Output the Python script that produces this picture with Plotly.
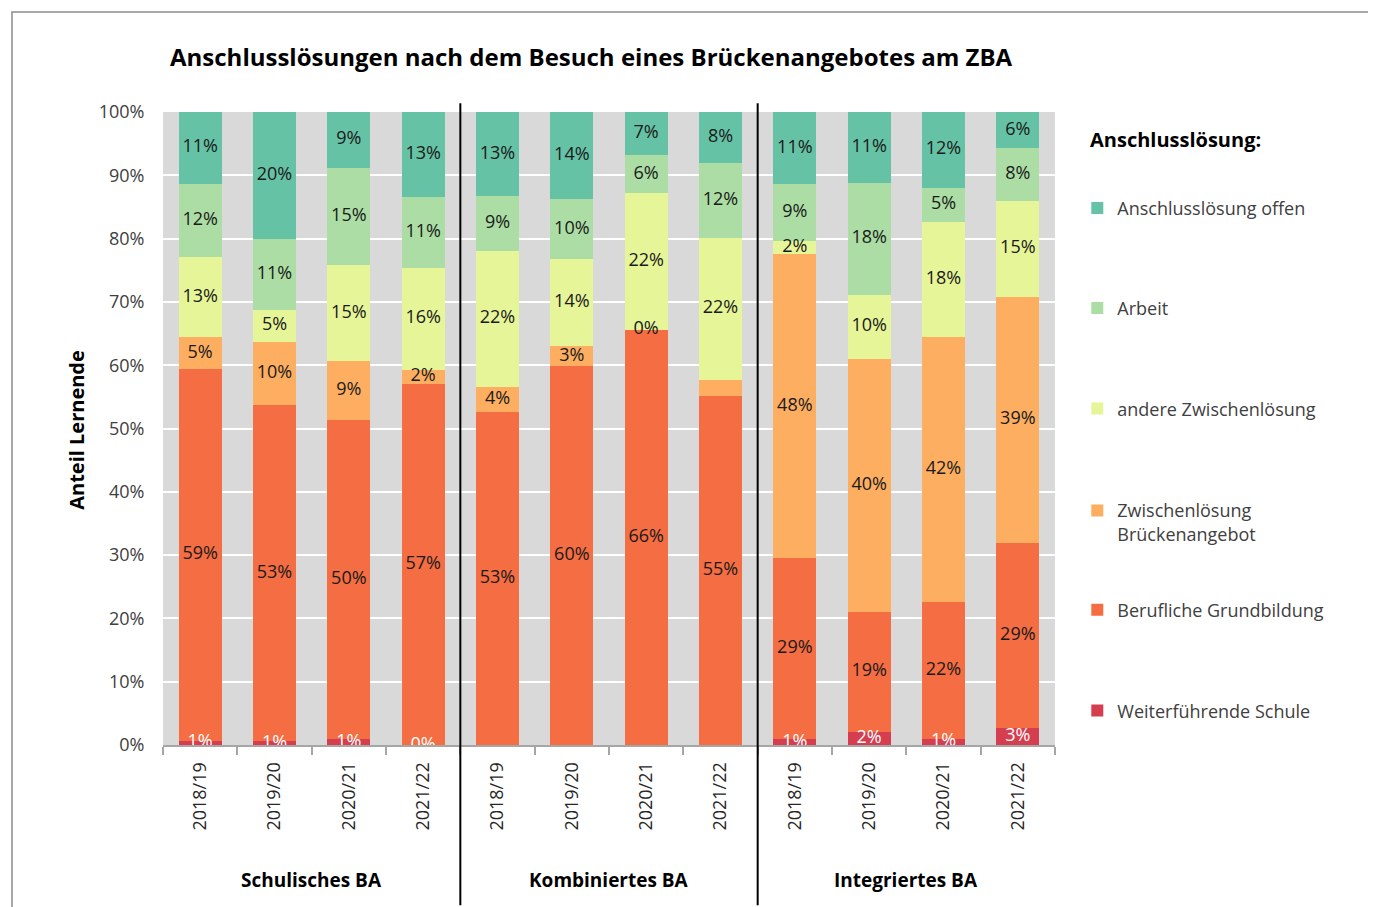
import plotly.graph_objects as go

groups = ["Schulisches BA", "Kombiniertes BA", "Integriertes BA"]
years = ["2018/19", "2019/20", "2020/21", "2021/22"]

series_names = [
    "Weiterführende Schule",
    "Berufliche Grundbildung",
    "Zwischenlösung Brückenangebot",
    "andere Zwischenlösung",
    "Arbeit",
    "Anschlusslösung offen",
]
legend_names = [
    "Weiterführende Schule",
    "Berufliche Grundbildung",
    "Zwischenlösung<br>Brückenangebot",
    "andere Zwischenlösung",
    "Arbeit",
    "Anschlusslösung offen",
]
colors = ["#d53e4f", "#f46d43", "#fdae61", "#e6f598", "#abdda4", "#66c2a5"]

# values in percent, 12 bars: Schulisches(4), Kombiniertes(4), Integriertes(4)
weiterfuehrende = [0.7, 0.6, 0.9, 0.0, None, None, None, None, 0.9, 2.1, 1.0, 2.7]
berufliche = [58.7, 53.1, 50.4, 57.1, 52.6, 59.9, 65.6, 55.2, 28.6, 18.9, 21.6, 29.2]
brueckenangebot = [5.0, 10.0, 9.3, 2.2, 3.9, 3.1, 0.0, 2.5, 48.0, 40.0, 41.9, 38.9]
andere = [12.7, 5.0, 15.2, 16.1, 21.6, 13.7, 21.6, 22.4, 2.1, 10.1, 18.2, 15.2]
arbeit = [11.6, 11.2, 15.4, 11.2, 8.6, 9.6, 6.0, 11.9, 9.0, 17.7, 5.3, 8.3]
offen = [11.3, 20.1, 8.8, 13.4, 13.3, 13.7, 6.8, 8.0, 11.4, 11.2, 12.0, 5.7]

# labels not shown in the original (series index, bar index)
hidden_labels = {(2, 7)}

all_values = [weiterfuehrende, berufliche, brueckenangebot, andere, arbeit, offen]

cats = [f"{g} {y}" for g in groups for y in years]
tick_text = [y for g in groups for y in years]

fig = go.Figure()

# legend placement (paper y) for each series
legend_y = [0.054, 0.213, 0.352, 0.531, 0.690, 0.848]

for i, (name, vals) in enumerate(zip(series_names, all_values)):
    lid = "legend" if i == 0 else f"legend{i + 1}"
    fig.add_trace(go.Bar(
        x=cats, y=vals, name=legend_names[i],
        marker=dict(color=colors[i], line=dict(width=0)),
        legend=lid, hoverinfo="skip",
    ))

font_fam = "Open Sans"

# data labels at segment centers
cum = [0.0] * len(cats)
for i, vals in enumerate(all_values):
    lx, ly, lt = [], [], []
    for j, v in enumerate(vals):
        if v is None:
            continue
        mid = cum[j] + v / 2
        cum[j] += v
        if (i, j) in hidden_labels:
            continue
        lx.append(cats[j])
        ly.append(mid)
        lt.append(f"{v:.0f}%")
    fig.add_trace(go.Scatter(
        x=lx, y=ly, text=lt, mode="text", showlegend=False,
        textfont=dict(size=18, color="white" if i == 0 else "#1a1a1a",
                      family=font_fam),
        hoverinfo="skip", cliponaxis=True,
    ))

fig.update_layout(
    width=1376, height=907,
    margin=dict(l=155, r=329, t=104, b=170),
    barmode="stack", bargap=0.42,
    plot_bgcolor="#d9d9d9", paper_bgcolor="white",
    font=dict(family=font_fam, size=17, color="#404040"),
)

fig.update_yaxes(
    range=[0, 100], dtick=10, ticksuffix="%", showgrid=True,
    gridcolor="white", gridwidth=2, zeroline=False, showline=False,
    ticks="outside", ticklen=14, tickcolor="rgba(0,0,0,0)",
    tickfont=dict(size=18, color="#404040"), fixedrange=True,
)
fig.update_xaxes(
    type="category", tickmode="array", tickvals=cats, ticktext=tick_text,
    tickangle=-90, tickson="boundaries", ticks="outside", ticklen=8,
    tickcolor="#a6a6a6", tickwidth=1.5, showline=True, linecolor="#a6a6a6",
    linewidth=2, showgrid=False, tickfont=dict(size=18, color="#262626"),
    ticklabelstandoff=8, range=[-0.5, 11.5],
)

for i in range(6):
    lid = "legend" if i == 0 else f"legend{i + 1}"
    fig.update_layout({lid: dict(
        x=1.025, xanchor="left", y=legend_y[i], yanchor="middle",
        bgcolor="rgba(0,0,0,0)", valign="top", itemwidth=30,
        font=dict(size=18, color="#404040", family=font_fam),
    )})

# title
fig.add_annotation(
    text="<b>Anschlusslösungen nach dem Besuch eines Brückenangebotes am ZBA</b>",
    xref="paper", yref="paper", x=0.48, y=1.087, xanchor="center", yanchor="middle",
    showarrow=False, font=dict(size=24, color="black", family=font_fam),
)
# legend title
fig.add_annotation(
    text="<b>Anschlusslösung:</b>", xref="paper", yref="paper",
    x=1.037, y=0.957, xanchor="left", yanchor="middle", showarrow=False,
    font=dict(size=20, color="black", family=font_fam),
)
# y axis title
fig.add_annotation(
    text="<b>Anteil Lernende</b>", xref="paper", yref="paper",
    x=-0.0964, y=0.498, xanchor="center", yanchor="middle", textangle=-90,
    showarrow=False, font=dict(size=20, color="black", family=font_fam),
)
# group labels
for k, g in enumerate(groups):
    fig.add_annotation(
        text=f"<b>{g}</b>", xref="x", yref="paper", x=cats[4 * k + 1],
        xshift=37, y=-0.213, xanchor="center", yanchor="middle",
        showarrow=False, font=dict(size=19, color="black", family=font_fam),
    )

# group separators
for xb in [3.5, 7.5]:
    fig.add_shape(type="line", xref="x", yref="paper", x0=xb, x1=xb,
                  y0=1.014, y1=-0.253, line=dict(color="black", width=2))

# outer frame
fig.add_shape(type="rect", xref="paper", yref="paper", x0=-0.1693, x1=1.3531,
              y0=-0.3, y1=1.158, line=dict(color="#8c8c8c", width=1.5),
              fillcolor="rgba(0,0,0,0)", layer="below")

fig.write_html("out.html")
